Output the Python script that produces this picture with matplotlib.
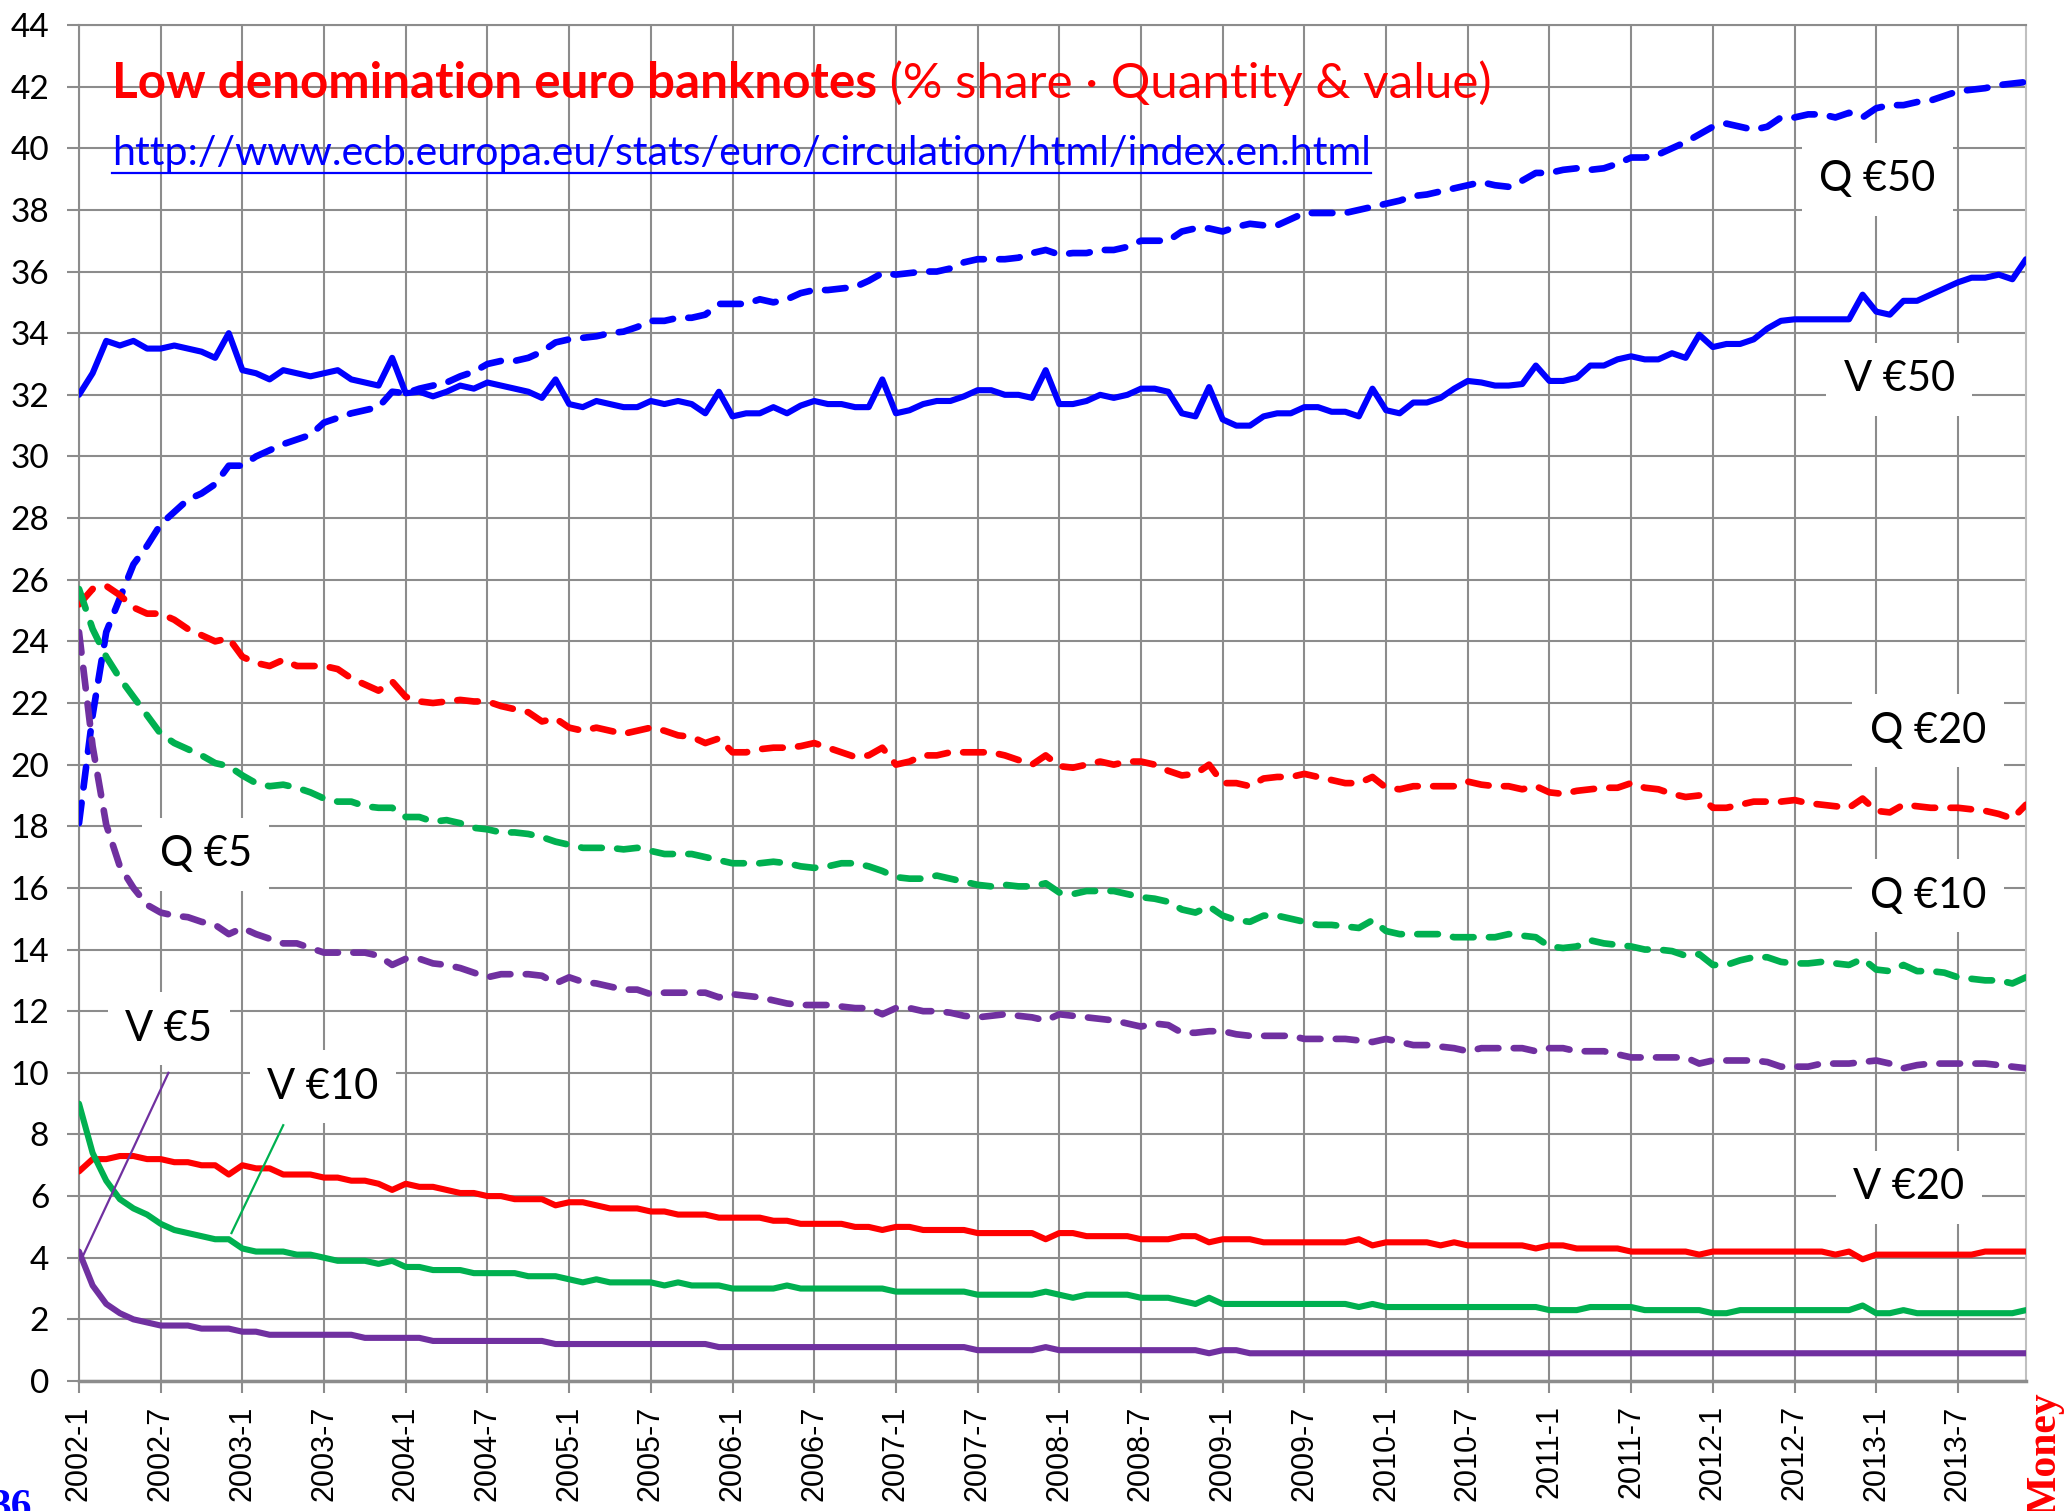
import matplotlib
matplotlib.use("Agg")
import matplotlib.pyplot as plt
from matplotlib.lines import Line2D

W, H, DPI = 2067, 1511, 100

# monthly categories, 2002-1 .. 2013-12
months = [f"{y}-{m}" for y in range(2002, 2014) for m in range(1, 13)]
tick_labels = months[::6]

# % share of each denomination, Q = quantity (pieces), V = value
q50 = [18.1, 21.6, 24.3, 25.4, 26.5, 27.1, 27.8, 28.2, 28.6, 28.8, 29.1, 29.7,
       29.7, 30.0, 30.2, 30.4, 30.55, 30.7, 31.1, 31.25, 31.4, 31.5, 31.6, 32.1,
       32.05, 32.2, 32.3, 32.4, 32.6, 32.75, 33.0, 33.1, 33.1, 33.2, 33.4, 33.7,
       33.8, 33.85, 33.9, 34.0, 34.05, 34.2, 34.4, 34.4, 34.5, 34.5, 34.6, 34.95,
       34.95, 34.95, 35.1, 35.0, 35.1, 35.3, 35.4, 35.4, 35.45, 35.5, 35.7, 35.95,
       35.9, 35.95, 36.0, 36.0, 36.1, 36.3, 36.4, 36.4, 36.4, 36.45, 36.6, 36.7,
       36.55, 36.6, 36.6, 36.7, 36.7, 36.8, 37.0, 37.0, 37.0, 37.3, 37.4, 37.4,
       37.3, 37.45, 37.55, 37.5, 37.5, 37.7, 37.9, 37.9, 37.9, 37.9, 38.0, 38.1,
       38.2, 38.3, 38.45, 38.5, 38.6, 38.7, 38.8, 38.9, 38.8, 38.75, 38.95, 39.2,
       39.2, 39.3, 39.35, 39.3, 39.35, 39.5, 39.7, 39.7, 39.8, 40.0, 40.2, 40.45,
       40.7, 40.8, 40.7, 40.6, 40.7, 41.0, 41.0, 41.1, 41.1, 41.0, 41.15, 41.0,
       41.3, 41.4, 41.4, 41.5, 41.55, 41.7, 41.85, 41.9, 41.95, 42.05, 42.1, 42.15]

v50 = [32.0, 32.7, 33.75, 33.6, 33.75, 33.5, 33.5, 33.6, 33.5, 33.4, 33.2, 34.0,
       32.8, 32.7, 32.5, 32.8, 32.7, 32.6, 32.7, 32.8, 32.5, 32.4, 32.3, 33.2,
       32.05, 32.1, 31.95, 32.1, 32.3, 32.2, 32.4, 32.3, 32.2, 32.1, 31.9, 32.5,
       31.7, 31.6, 31.8, 31.7, 31.6, 31.6, 31.8, 31.7, 31.8, 31.7, 31.4, 32.1,
       31.3, 31.4, 31.4, 31.6, 31.4, 31.65, 31.8, 31.7, 31.7, 31.6, 31.6, 32.5,
       31.4, 31.5, 31.7, 31.8, 31.8, 31.95, 32.15, 32.15, 32.0, 32.0, 31.9, 32.8,
       31.7, 31.7, 31.8, 32.0, 31.9, 32.0, 32.2, 32.2, 32.1, 31.4, 31.3, 32.25,
       31.2, 31.0, 31.0, 31.3, 31.4, 31.4, 31.6, 31.6, 31.45, 31.45, 31.3, 32.2,
       31.5, 31.4, 31.75, 31.75, 31.9, 32.2, 32.45, 32.4, 32.3, 32.3, 32.35, 32.95,
       32.45, 32.45, 32.55, 32.95, 32.95, 33.15, 33.25, 33.15, 33.15, 33.35, 33.2, 33.95,
       33.55, 33.65, 33.65, 33.8, 34.15, 34.4, 34.45, 34.45, 34.45, 34.45, 34.45, 35.25,
       34.7, 34.6, 35.05, 35.05, 35.25, 35.45, 35.65, 35.8, 35.8, 35.9, 35.75, 36.4]

q20 = [25.2, 25.7, 25.8, 25.5, 25.1, 24.9, 24.9, 24.7, 24.4, 24.2, 24.0, 24.1,
       23.5, 23.3, 23.2, 23.4, 23.2, 23.2, 23.2, 23.1, 22.8, 22.6, 22.4, 22.7,
       22.2, 22.05, 22.0, 22.05, 22.1, 22.05, 22.05, 21.9, 21.8, 21.7, 21.4, 21.5,
       21.2, 21.1, 21.2, 21.1, 21.0, 21.1, 21.2, 21.1, 20.95, 20.9, 20.7, 20.85,
       20.4, 20.4, 20.5, 20.55, 20.55, 20.6, 20.7, 20.55, 20.4, 20.25, 20.3, 20.55,
       20.0, 20.1, 20.3, 20.3, 20.4, 20.4, 20.4, 20.4, 20.3, 20.15, 20.0, 20.3,
       19.95, 19.9, 20.0, 20.1, 20.0, 20.1, 20.1, 20.0, 19.8, 19.65, 19.7, 20.0,
       19.4, 19.4, 19.3, 19.55, 19.6, 19.6, 19.7, 19.6, 19.5, 19.4, 19.4, 19.6,
       19.25, 19.2, 19.3, 19.3, 19.3, 19.3, 19.45, 19.35, 19.3, 19.3, 19.2, 19.3,
       19.1, 19.05, 19.15, 19.2, 19.25, 19.25, 19.4, 19.25, 19.2, 19.05, 18.95, 19.0,
       18.6, 18.6, 18.7, 18.8, 18.8, 18.8, 18.85, 18.75, 18.7, 18.65, 18.6, 18.9,
       18.5, 18.45, 18.7, 18.65, 18.6, 18.6, 18.6, 18.55, 18.5, 18.4, 18.25, 18.7]

v20 = [6.8, 7.2, 7.2, 7.3, 7.3, 7.2, 7.2, 7.1, 7.1, 7.0, 7.0, 6.7,
       7.0, 6.9, 6.9, 6.7, 6.7, 6.7, 6.6, 6.6, 6.5, 6.5, 6.4, 6.2,
       6.4, 6.3, 6.3, 6.2, 6.1, 6.1, 6.0, 6.0, 5.9, 5.9, 5.9, 5.7,
       5.8, 5.8, 5.7, 5.6, 5.6, 5.6, 5.5, 5.5, 5.4, 5.4, 5.4, 5.3,
       5.3, 5.3, 5.3, 5.2, 5.2, 5.1, 5.1, 5.1, 5.1, 5.0, 5.0, 4.9,
       5.0, 5.0, 4.9, 4.9, 4.9, 4.9, 4.8, 4.8, 4.8, 4.8, 4.8, 4.6,
       4.8, 4.8, 4.7, 4.7, 4.7, 4.7, 4.6, 4.6, 4.6, 4.7, 4.7, 4.5,
       4.6, 4.6, 4.6, 4.5, 4.5, 4.5, 4.5, 4.5, 4.5, 4.5, 4.6, 4.4,
       4.5, 4.5, 4.5, 4.5, 4.4, 4.5, 4.4, 4.4, 4.4, 4.4, 4.4, 4.3,
       4.4, 4.4, 4.3, 4.3, 4.3, 4.3, 4.2, 4.2, 4.2, 4.2, 4.2, 4.1,
       4.2, 4.2, 4.2, 4.2, 4.2, 4.2, 4.2, 4.2, 4.2, 4.1, 4.2, 3.95,
       4.1, 4.1, 4.1, 4.1, 4.1, 4.1, 4.1, 4.1, 4.2, 4.2, 4.2, 4.2]

q10 = [25.7, 24.4, 23.5, 22.8, 22.2, 21.6, 21.0, 20.7, 20.5, 20.3, 20.05, 19.95,
       19.65, 19.4, 19.3, 19.35, 19.25, 19.1, 18.9, 18.8, 18.8, 18.65, 18.6, 18.6,
       18.3, 18.3, 18.15, 18.2, 18.1, 17.95, 17.9, 17.8, 17.8, 17.75, 17.65, 17.5,
       17.4, 17.3, 17.3, 17.3, 17.25, 17.3, 17.2, 17.1, 17.1, 17.1, 17.0, 16.9,
       16.8, 16.8, 16.8, 16.85, 16.8, 16.7, 16.65, 16.7, 16.8, 16.8, 16.7, 16.55,
       16.35, 16.3, 16.3, 16.4, 16.3, 16.2, 16.1, 16.05, 16.1, 16.05, 16.05, 16.15,
       15.85, 15.8, 15.9, 15.9, 15.9, 15.8, 15.7, 15.65, 15.55, 15.3, 15.2, 15.4,
       15.1, 14.95, 14.9, 15.1, 15.1, 15.0, 14.9, 14.8, 14.8, 14.75, 14.7, 14.95,
       14.6, 14.5, 14.5, 14.5, 14.5, 14.4, 14.4, 14.4, 14.4, 14.5, 14.45, 14.4,
       14.1, 14.05, 14.1, 14.3, 14.2, 14.15, 14.1, 14.0, 14.0, 13.95, 13.8, 13.85,
       13.5, 13.5, 13.65, 13.75, 13.75, 13.6, 13.55, 13.55, 13.6, 13.55, 13.5, 13.7,
       13.35, 13.3, 13.5, 13.3, 13.3, 13.25, 13.1, 13.05, 13.0, 13.0, 12.9, 13.1]

v10 = [9.0, 7.4, 6.5, 5.9, 5.6, 5.4, 5.1, 4.9, 4.8, 4.7, 4.6, 4.6,
       4.3, 4.2, 4.2, 4.2, 4.1, 4.1, 4.0, 3.9, 3.9, 3.9, 3.8, 3.9,
       3.7, 3.7, 3.6, 3.6, 3.6, 3.5, 3.5, 3.5, 3.5, 3.4, 3.4, 3.4,
       3.3, 3.2, 3.3, 3.2, 3.2, 3.2, 3.2, 3.1, 3.2, 3.1, 3.1, 3.1,
       3.0, 3.0, 3.0, 3.0, 3.1, 3.0, 3.0, 3.0, 3.0, 3.0, 3.0, 3.0,
       2.9, 2.9, 2.9, 2.9, 2.9, 2.9, 2.8, 2.8, 2.8, 2.8, 2.8, 2.9,
       2.8, 2.7, 2.8, 2.8, 2.8, 2.8, 2.7, 2.7, 2.7, 2.6, 2.5, 2.7,
       2.5, 2.5, 2.5, 2.5, 2.5, 2.5, 2.5, 2.5, 2.5, 2.5, 2.4, 2.5,
       2.4, 2.4, 2.4, 2.4, 2.4, 2.4, 2.4, 2.4, 2.4, 2.4, 2.4, 2.4,
       2.3, 2.3, 2.3, 2.4, 2.4, 2.4, 2.4, 2.3, 2.3, 2.3, 2.3, 2.3,
       2.2, 2.2, 2.3, 2.3, 2.3, 2.3, 2.3, 2.3, 2.3, 2.3, 2.3, 2.45,
       2.2, 2.2, 2.3, 2.2, 2.2, 2.2, 2.2, 2.2, 2.2, 2.2, 2.2, 2.3]

q5 = [24.3, 20.6, 18.05, 16.7, 16.0, 15.45, 15.2, 15.1, 15.05, 14.9, 14.8, 14.5,
      14.7, 14.5, 14.35, 14.2, 14.2, 14.05, 13.9, 13.9, 13.9, 13.9, 13.8, 13.5,
      13.7, 13.7, 13.55, 13.5, 13.4, 13.25, 13.1, 13.2, 13.2, 13.2, 13.15, 12.9,
      13.1, 12.95, 12.9, 12.8, 12.7, 12.7, 12.55, 12.6, 12.6, 12.6, 12.6, 12.45,
      12.55, 12.5, 12.45, 12.35, 12.25, 12.2, 12.2, 12.2, 12.15, 12.1, 12.1, 11.9,
      12.1, 12.1, 12.0, 12.0, 11.95, 11.85, 11.8, 11.85, 11.9, 11.85, 11.8, 11.7,
      11.9, 11.85, 11.8, 11.75, 11.7, 11.6, 11.5, 11.6, 11.55, 11.3, 11.3, 11.35,
      11.35, 11.25, 11.2, 11.2, 11.2, 11.2, 11.1, 11.1, 11.1, 11.1, 11.05, 11.0,
      11.1, 11.0, 10.9, 10.9, 10.85, 10.8, 10.7, 10.8, 10.8, 10.8, 10.8, 10.7,
      10.8, 10.8, 10.7, 10.7, 10.7, 10.6, 10.5, 10.5, 10.5, 10.5, 10.5, 10.3,
      10.4, 10.4, 10.4, 10.4, 10.35, 10.2, 10.2, 10.2, 10.3, 10.3, 10.3, 10.35,
      10.4, 10.3, 10.15, 10.25, 10.3, 10.3, 10.3, 10.3, 10.3, 10.25, 10.2, 10.15]

v5 = [4.2, 3.1, 2.5, 2.2, 2.0, 1.9, 1.8, 1.8, 1.8, 1.7, 1.7, 1.7,
      1.6, 1.6, 1.5, 1.5, 1.5, 1.5, 1.5, 1.5, 1.5, 1.4, 1.4, 1.4,
      1.4, 1.4, 1.3, 1.3, 1.3, 1.3, 1.3, 1.3, 1.3, 1.3, 1.3, 1.2,
      1.2, 1.2, 1.2, 1.2, 1.2, 1.2, 1.2, 1.2, 1.2, 1.2, 1.2, 1.1,
      1.1, 1.1, 1.1, 1.1, 1.1, 1.1, 1.1, 1.1, 1.1, 1.1, 1.1, 1.1,
      1.1, 1.1, 1.1, 1.1, 1.1, 1.1, 1.0, 1.0, 1.0, 1.0, 1.0, 1.1,
      1.0, 1.0, 1.0, 1.0, 1.0, 1.0, 1.0, 1.0, 1.0, 1.0, 1.0, 0.9,
      1.0, 1.0, 0.9, 0.9, 0.9, 0.9, 0.9, 0.9, 0.9, 0.9, 0.9, 0.9,
      0.9, 0.9, 0.9, 0.9, 0.9, 0.9, 0.9, 0.9, 0.9, 0.9, 0.9, 0.9,
      0.9, 0.9, 0.9, 0.9, 0.9, 0.9, 0.9, 0.9, 0.9, 0.9, 0.9, 0.9,
      0.9, 0.9, 0.9, 0.9, 0.9, 0.9, 0.9, 0.9, 0.9, 0.9, 0.9, 0.9,
      0.9, 0.9, 0.9, 0.9, 0.9, 0.9, 0.9, 0.9, 0.9, 0.9, 0.9, 0.9]

BLUE, RED, GREEN, PURPLE = "#0000FF", "#FF0000", "#00B050", "#7030A0"
GRID = "#8C8C8C"
LW = 4.4
LW_DASH = 4.8
DASH = (0, (3.1, 2.3))

# (values, colour, dashed?)
series = [
    (q50, BLUE, True), (v50, BLUE, False),
    (q20, RED, True), (v20, RED, False),
    (q10, GREEN, True), (v10, GREEN, False),
    (q5, PURPLE, True), (v5, PURPLE, False),
]

# series labels: text, month index, value
labels = [
    ("Q €50", 132.1, 39.0), ("V €50", 133.7, 32.5),
    ("Q €20", 135.8, 21.1), ("Q €10", 135.8, 15.75),
    ("V €20", 134.4, 6.28), ("Q €5", 9.3, 17.1),
    ("V €5", 6.6, 11.43), ("V €10", 17.9, 9.55),
]
# leader lines (from label to series)
leaders = [
    ([6.57, 0.27], [10.0, 4.04], PURPLE),
    ([15.0, 11.2], [8.3, 4.8], GREEN),
]

fig = plt.figure(figsize=(W / DPI, H / DPI), dpi=DPI)
ax = fig.add_axes([79 / W, 1 - 1381 / H, (2026 - 79) / W, (1381 - 25) / H])

x = list(range(len(months)))
for vals, col, dashed in series:
    if dashed:
        ax.plot(x, vals, color=col, lw=LW_DASH, ls=DASH, dash_capstyle="round",
                dash_joinstyle="round", zorder=3)
    else:
        ax.plot(x, vals, color=col, lw=LW, solid_capstyle="round",
                solid_joinstyle="round", zorder=3)

for xs, ys, col in leaders:
    ax.plot(xs, ys, color=col, lw=1.6, zorder=4)

for txt, mx, vy in labels:
    ax.text(mx, vy, txt, ha="center", va="center", fontsize=30, family="Lato",
            color="black", zorder=5,
            bbox=dict(boxstyle="square,pad=0.42", fc="white", ec="none"))

ax.set_xlim(0, len(months) - 1)
ax.set_ylim(0, 44)
ax.set_yticks(range(0, 45, 2))
ax.set_xticks(x[::6])
ax.set_xticklabels(tick_labels, rotation=90, family="Liberation Sans", fontsize=22)
for lab in ax.get_yticklabels():
    lab.set_family("Lato")
    lab.set_fontsize(24)

ax.grid(True, color=GRID, lw=1.5)
ax.set_axisbelow(True)
ax.tick_params(axis="both", direction="out", length=8.5, width=1.5, color=GRID)
ax.tick_params(axis="y", pad=13)
ax.tick_params(axis="x", pad=9)
for side in ("left", "top"):
    ax.spines[side].set_color(GRID)
    ax.spines[side].set_linewidth(1.5)
ax.spines["bottom"].set_color(GRID)
ax.spines["bottom"].set_linewidth(2.5)
ax.spines["right"].set_color("#C0C0C0")
ax.spines["right"].set_linewidth(1.5)

# title: bold part + regular part
t1 = fig.text(112 / W, 1 - 98 / H, "Low denomination euro banknotes", fontsize=35.6,
              weight="bold", color=RED, family="Lato", va="baseline")
ax.annotate(" (% share · Quantity & value)", xy=(1, 0), xycoords=t1,
            va="bottom", ha="left", fontsize=35.6, color=RED, family="Lato",
            annotation_clip=False)

url = fig.text(112 / W, 1 - 165 / H,
               "http://www.ecb.europa.eu/stats/euro/circulation/html/index.en.html",
               fontsize=29.6, color=BLUE, family="Lato", va="baseline")

# watermark fragments at the bottom corners
fig.text(32 / W, -7 / H, "36", fontsize=30, weight="bold", color=BLUE,
         family="Liberation Serif", ha="right", va="baseline")
fig.text(2055 / W, 1 - 1392 / H, "Money", fontsize=30, weight="bold", color=RED,
         family="Liberation Serif", rotation=90, rotation_mode="anchor",
         ha="right", va="baseline")

# underline the url
fig.canvas.draw()
bb = url.get_window_extent()
fig.add_artist(Line2D([bb.x0 / W, bb.x1 / W], [1 - 173 / H, 1 - 173 / H],
                      color=BLUE, lw=1.6, transform=fig.transFigure))

fig.savefig("out.png", dpi=DPI)
